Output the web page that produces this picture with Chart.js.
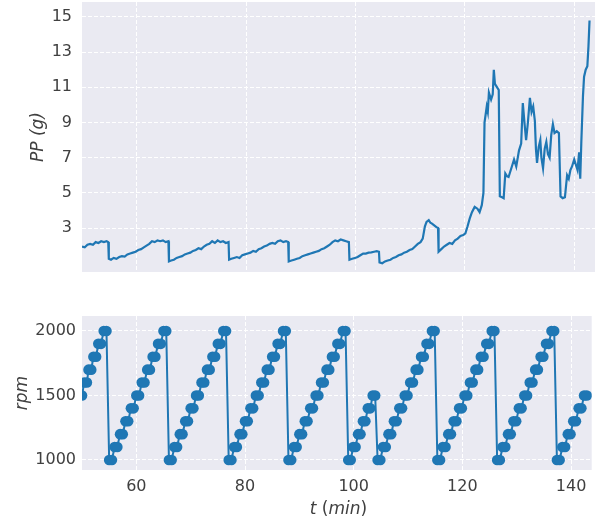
<!DOCTYPE html>
<html>
<head>
<meta charset="utf-8">
<script src="https://cdn.jsdelivr.net/npm/chart.js@4"></script>
<style>
  body{margin:0;background:#fff;width:597px;height:523px;position:relative;overflow:hidden;font-family:"DejaVu Sans",sans-serif}
  #top{position:absolute;left:0;top:0;width:597px;height:280px}
  #bot{position:absolute;left:0;top:300px;width:597px;height:200px}
  #xlab{position:absolute;left:82px;width:513px;top:498px;text-align:center;font-size:17px;color:#404040;line-height:20px}
</style>
</head>
<body>
<div id="top"><canvas id="cPP"></canvas></div>
<div id="bot"><canvas id="cRPM"></canvas></div>
<div id="xlab"><i>t</i> (<i>min</i>)</div>
<script>
const xTicks = [60, 80, 100, 120, 140];
const ppTicks = [3, 5, 7, 9, 11, 13, 15];
const rpmTicks = [1000, 1500, 2000];

// PP (g) vs t (min)
const ppTime = [
  50.0,50.5,51.0,51.5,52.0,52.5,53.0,53.5,54.0,54.5,54.8,
  54.9,55.3,55.8,56.3,56.8,57.3,57.8,58.3,58.8,59.3,59.8,60.3,60.8,61.3,61.8,62.3,62.8,63.3,63.8,64.3,64.8,65.3,65.8,
  65.9,66.3,66.8,67.3,67.8,68.3,68.8,69.3,69.8,70.3,70.8,71.3,71.8,72.3,72.8,73.3,73.8,74.3,74.8,75.3,75.8,76.3,76.8,
  76.9,77.3,77.8,78.3,78.8,79.3,79.8,80.3,80.8,81.3,81.8,82.3,82.8,83.3,83.8,84.3,84.8,85.3,85.8,86.3,86.8,87.3,87.7,
  87.8,88.3,88.8,89.3,89.8,90.3,90.8,91.3,91.8,92.3,92.8,93.3,93.8,94.3,94.8,95.3,95.8,96.3,96.8,97.3,97.8,98.3,98.8,
  98.9,99.4,99.9,100.4,100.9,101.4,101.9,102.4,102.9,103.4,103.9,104.3,
  104.4,104.9,105.4,105.9,106.4,106.9,107.4,107.9,108.4,108.9,109.4,109.9,110.4,110.9,111.4,111.9,112.3,112.7,113.0,113.4,113.7,114.0,114.4,114.8,115.1,
  115.2,115.7,116.2,116.7,117.2,117.7,118.2,118.7,119.2,119.7,120.1,120.5,120.9,121.3,121.8,122.3,122.7,123.1,123.4,123.6,124.0,124.2,124.4,124.8,125.1,125.3,125.5,125.9,126.2,
  126.4,126.8,127.1,127.4,127.7,128.0,128.4,128.7,129.0,129.4,129.9,130.3,130.6,130.9,131.2,131.5,131.9,132.2,132.5,132.8,133.0,133.2,133.5,133.8,134.0,134.3,134.6,134.9,135.2,135.5,135.8,136.1,136.4,136.8,137.2,
  137.5,137.9,138.3,138.7,139.0,139.3,139.6,140.0,140.3,140.6,140.9,141.1,141.3,141.6,141.8,142.1,142.4,142.6,142.8
];
const ppValue = [
  1.95,1.9,2.05,2.1,2.05,2.2,2.15,2.25,2.2,2.25,2.2,
  1.25,1.2,1.3,1.25,1.35,1.4,1.38,1.5,1.55,1.6,1.65,1.75,1.8,1.9,2.0,2.1,2.25,2.2,2.3,2.25,2.3,2.2,2.25,
  1.1,1.15,1.2,1.3,1.35,1.4,1.5,1.55,1.6,1.7,1.75,1.85,1.8,1.95,2.05,2.1,2.25,2.15,2.3,2.2,2.25,2.15,2.2,
  1.2,1.25,1.3,1.35,1.3,1.45,1.5,1.55,1.6,1.7,1.65,1.8,1.85,1.95,2.0,2.1,2.15,2.1,2.25,2.3,2.2,2.25,2.2,
  1.1,1.15,1.2,1.25,1.3,1.4,1.45,1.5,1.55,1.6,1.65,1.7,1.8,1.85,1.95,2.05,2.2,2.3,2.25,2.35,2.3,2.25,2.2,
  1.2,1.25,1.3,1.35,1.45,1.55,1.55,1.6,1.62,1.65,1.68,1.65,
  1.05,1.0,1.1,1.15,1.2,1.3,1.35,1.45,1.5,1.6,1.65,1.75,1.8,1.95,2.1,2.2,2.4,3.1,3.35,3.45,3.3,3.25,3.15,3.05,3.0,
  1.65,1.8,1.95,2.05,2.15,2.1,2.3,2.4,2.55,2.6,2.7,3.1,3.55,3.9,4.2,4.1,3.9,4.3,5.0,9.0,9.9,9.6,10.7,10.3,10.6,12.0,11.2,11.0,10.85,
  4.8,4.75,4.7,6.1,5.95,5.9,6.3,6.6,6.9,6.5,7.4,7.8,10.1,9.0,8.0,8.9,10.4,9.6,9.9,9.1,7.5,6.7,7.6,8.0,7.0,6.4,7.5,7.9,7.2,7.0,8.3,8.9,8.4,8.5,8.4,
  4.8,4.7,4.75,6.0,5.8,6.3,6.5,6.9,6.6,6.3,7.3,5.8,7.9,10.5,11.6,12.0,12.2,13.3,14.8
];

// rpm vs t (min)
const rpmTime = [
  49.5,50.0,50.4,50.9,51.2,51.7,52.1,52.6,53.0,53.5,54.0,54.5,
  55.0,55.5,56.0,56.5,57.0,57.5,58.0,58.5,59.0,59.5,60.0,60.5,61.0,61.5,62.0,62.5,63.0,63.5,64.0,64.5,65.0,65.5,
  66.0,66.5,67.0,67.5,68.0,68.5,69.0,69.5,70.0,70.5,71.0,71.5,72.0,72.5,73.0,73.5,74.0,74.5,75.0,75.5,76.0,76.5,
  77.0,77.5,78.0,78.5,79.0,79.5,80.0,80.5,81.0,81.5,82.0,82.5,83.0,83.5,84.0,84.5,85.0,85.5,86.0,86.5,87.0,87.5,
  88.0,88.5,89.0,89.5,90.0,90.5,91.0,91.5,92.0,92.5,93.0,93.5,94.0,94.5,95.0,95.5,96.0,96.5,97.0,97.5,98.0,98.5,
  99.0,99.45,99.9,100.35,100.8,101.25,101.7,102.15,102.6,103.05,103.5,103.95,
  104.4,104.9,105.4,105.9,106.4,106.9,107.4,107.9,108.4,108.9,109.4,109.9,110.4,110.9,111.4,111.9,112.4,112.9,113.4,113.9,114.4,114.9,
  115.4,115.9,116.4,116.9,117.4,117.9,118.4,118.9,119.4,119.9,120.4,120.9,121.4,121.9,122.4,122.9,123.4,123.9,124.4,124.9,125.4,125.9,
  126.4,126.9,127.4,127.9,128.4,128.9,129.4,129.9,130.4,130.9,131.4,131.9,132.4,132.9,133.4,133.9,134.4,134.9,135.4,135.9,136.4,136.9,
  137.4,137.9,138.4,138.9,139.4,139.9,140.4,140.9,141.4,141.9,142.4,142.9
];
const rpmValue = [
  1500,1500,1600,1600,1700,1700,1800,1800,1900,1900,2000,2000,
  1000,1000,1100,1100,1200,1200,1300,1300,1400,1400,1500,1500,1600,1600,1700,1700,1800,1800,1900,1900,2000,2000,
  1000,1000,1100,1100,1200,1200,1300,1300,1400,1400,1500,1500,1600,1600,1700,1700,1800,1800,1900,1900,2000,2000,
  1000,1000,1100,1100,1200,1200,1300,1300,1400,1400,1500,1500,1600,1600,1700,1700,1800,1800,1900,1900,2000,2000,
  1000,1000,1100,1100,1200,1200,1300,1300,1400,1400,1500,1500,1600,1600,1700,1700,1800,1800,1900,1900,2000,2000,
  1000,1000,1100,1100,1200,1200,1300,1300,1400,1400,1500,1500,
  1000,1000,1100,1100,1200,1200,1300,1300,1400,1400,1500,1500,1600,1600,1700,1700,1800,1800,1900,1900,2000,2000,
  1000,1000,1100,1100,1200,1200,1300,1300,1400,1400,1500,1500,1600,1600,1700,1700,1800,1800,1900,1900,2000,2000,
  1000,1000,1100,1100,1200,1200,1300,1300,1400,1400,1500,1500,1600,1600,1700,1700,1800,1800,1900,1900,2000,2000,
  1000,1000,1100,1100,1200,1200,1300,1300,1400,1400,1500,1500
];

const blue = '#1f77b4';
const txt = '#404040';
const tickFont = { family: 'DejaVu Sans', size: 16 };
const titleFont = { family: 'DejaVu Sans', size: 17, style: 'italic' };

// seaborn-like panel background
const panelBg = {
  id: 'panelBg',
  beforeDraw(chart){
    const a = chart.chartArea, ctx = chart.ctx;
    ctx.save();
    ctx.fillStyle = '#eaeaf2';
    ctx.fillRect(a.left, a.top, a.right - a.left, a.bottom - a.top);
    ctx.restore();
  }
};

const pts = (xs, ys) => xs.map((x, i) => ({ x: x, y: ys[i] }));
const fixTicks = list => s => { s.ticks = list.map(v => ({ value: v })); };
const plain = v => String(v);
const grid = { color: '#ffffff', lineWidth: 1, drawTicks: false };
const border = { display: false, dash: [4, 2] };
// lock the axis boxes so the plot areas sit where the reference has them
const fitY = w => s => { s.width = w; s.paddingTop = 0; s.paddingBottom = 0; };
const fitX = h => s => { s.height = h; s.paddingLeft = 0; s.paddingRight = 0; };

new Chart(document.getElementById('cPP'), {
  type: 'line',
  data: { datasets: [{ data: pts(ppTime, ppValue), borderColor: blue, borderWidth: 2.2, pointRadius: 0, tension: 0 }] },
  options: {
    animation: false, responsive: true, maintainAspectRatio: false,
    layout: { padding: { top: 2, right: 2, left: 0, bottom: 0 } },
    plugins: { legend: { display: false }, tooltip: { enabled: false } },
    scales: {
      x: { type: 'linear', min: 50, max: 143.8, grid: grid, border: border,
           ticks: { display: false }, afterBuildTicks: fixTicks(xTicks), afterFit: fitX(8) },
      y: { type: 'linear', min: 0.5, max: 15.85, grid: grid, border: border,
           ticks: { padding: 10, font: tickFont, color: txt, callback: plain },
           afterBuildTicks: fixTicks(ppTicks), afterFit: fitY(82),
           title: { display: true, text: 'PP (g)', font: titleFont, color: txt, padding: { top: 28, bottom: 0 } } }
    }
  },
  plugins: [panelBg]
});

new Chart(document.getElementById('cRPM'), {
  type: 'line',
  data: { datasets: [{ data: pts(rpmTime, rpmValue), borderColor: blue, borderWidth: 2,
                       pointRadius: 5.3, pointBackgroundColor: blue, pointBorderWidth: 0, tension: 0 }] },
  options: {
    animation: false, responsive: true, maintainAspectRatio: false,
    layout: { padding: { top: 16, right: 2, left: 0, bottom: 0 } },
    plugins: { legend: { display: false }, tooltip: { enabled: false } },
    scales: {
      x: { type: 'linear', min: 50, max: 143.8, grid: grid, border: border,
           ticks: { padding: 7, font: tickFont, color: txt, callback: plain },
           afterBuildTicks: fixTicks(xTicks), afterFit: fitX(30) },
      y: { type: 'linear', min: 922, max: 2116, grid: grid, border: border,
           ticks: { padding: 6, font: tickFont, color: txt, callback: plain },
           afterBuildTicks: fixTicks(rpmTicks), afterFit: fitY(82),
           title: { display: true, text: 'rpm', font: titleFont, color: txt, padding: { top: 12, bottom: 0 } } }
    }
  },
  plugins: [panelBg]
});
</script>
</body>
</html>
